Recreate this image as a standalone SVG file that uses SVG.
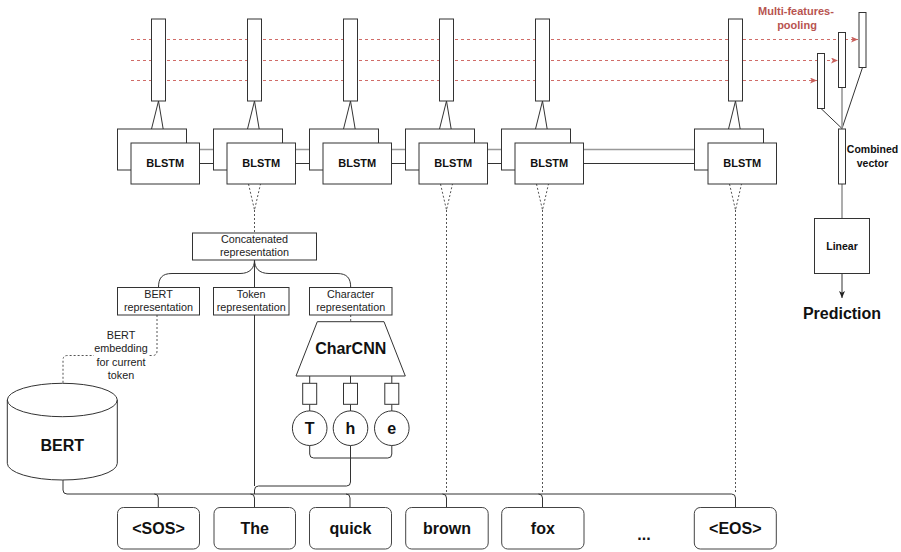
<svg xmlns="http://www.w3.org/2000/svg" width="901" height="552" viewBox="0 0 901 552">
  <defs>
    <marker id="arrow" markerUnits="userSpaceOnUse" markerWidth="8" markerHeight="7" refX="7" refY="3" orient="auto">
      <path d="M0,0 L7,3 L0,6 L1.8,3 Z" fill="#222"/>
    </marker>
    <marker id="arrowRed" markerUnits="userSpaceOnUse" markerWidth="8" markerHeight="7" refX="7" refY="3" orient="auto">
      <path d="M0,0 L7,3 L0,6 L1.8,3 Z" fill="#c9605c"/>
    </marker>
  </defs>
  <style>
    text { font-family: "Liberation Sans", Arial, Helvetica, sans-serif; fill: #111; text-anchor: middle; }
    .b11 { font-size: 11px; font-weight: bold; }
    .b10 { font-size: 10.5px; font-weight: bold; }
    .b16 { font-size: 16px; font-weight: bold; }
    .r11 { font-size: 10.8px; fill: #222; }
    .red { font-size: 11px; font-weight: bold; fill: #b85450; }
    .box { fill: #fff; stroke: #333; stroke-width: 1; }
    .tok { fill: #fff; stroke: #444; stroke-width: 1; }
    .ln { fill: none; stroke: #333; stroke-width: 1; }
    .gray { fill: none; stroke: #999; stroke-width: 1.6; }
    .dash { fill: none; stroke: #555; stroke-width: 1; stroke-dasharray: 2 2; }
    .pool { fill: none; stroke: #d06c68; stroke-width: 1; stroke-dasharray: 3 3; }
  </style>

  <!-- connectors -->
  <g id="connectors">
    <!-- pooling feeds -->
    <path class="pool" d="M131,39.5 H858" marker-end="url(#arrowRed)"/>
    <path class="pool" d="M131,60.5 H838" marker-end="url(#arrowRed)"/>
    <path class="pool" d="M131,80.5 H817" marker-end="url(#arrowRed)"/>

    <!-- bar to BLSTM pair -->
    <path class="ln" d="M158.5,101 L151.5,129 M158.5,101 L165.5,143"/>
    <path class="ln" d="M254.5,101 L247.5,129 M254.5,101 L261.5,143"/>
    <path class="ln" d="M350.5,101 L343.5,129 M350.5,101 L357.5,143"/>
    <path class="ln" d="M446.5,101 L439.5,129 M446.5,101 L453.5,143"/>
    <path class="ln" d="M542.5,101 L535.5,129 M542.5,101 L549.5,143"/>
    <path class="ln" d="M735.5,101 L728.5,129 M735.5,101 L742.5,143"/>

    <!-- recurrent links -->
    <path class="gray" d="M199.5,149.5 H213.5 M295.5,149.5 H309.5 M391.5,149.5 H405.5 M487.5,149.5 H501.5 M583.5,149.5 H694.5"/>
    <path class="ln" d="M199.5,163.5 H226.5" marker-end="url(#arrow)"/>
    <path class="ln" d="M295.5,163.5 H322.5" marker-end="url(#arrow)"/>
    <path class="ln" d="M391.5,163.5 H418.5" marker-end="url(#arrow)"/>
    <path class="ln" d="M487.5,163.5 H514.5" marker-end="url(#arrow)"/>
    <path class="ln" d="M583.5,163.5 H707.5" marker-end="url(#arrow)"/>

    <!-- inputs into BLSTM -->
    <path class="dash" d="M248.5,184 L254.5,210 L260.5,184 M254.5,210 V233"/>
    <path class="dash" d="M440.5,184 L446.5,210 L452.5,184 M446.5,210 V494"/>
    <path class="dash" d="M536.5,184 L542.5,210 L548.5,184 M542.5,210 V494"/>
    <path class="dash" d="M729.5,184 L735.5,210 L741.5,184 M735.5,210 V494"/>

    <!-- representation tree -->
    <path class="ln" d="M254.5,260 C254.5,268 250,273.5 240,273.5 L172,273.5 C162,273.5 158.5,278 158.5,287.5"/>
    <path class="ln" d="M254.5,260 C254.5,268 259,273.5 269,273.5 L337,273.5 C347,273.5 350.7,278 350.7,287.5"/>
    <path class="ln" d="M254.5,260 V486"/>
    <path class="dash" d="M350.7,315 V321.7"/>

    <!-- BERT embedding link -->
    <path class="dash" d="M157,315 V351 Q157,355.5 152.5,355.5 H67.5 Q63,355.5 63,360 V383"/>

    <!-- CharCNN internals -->
    <path class="ln" d="M309.7,376 V383.3 M350.5,376 V383.3 M391.8,376 V383.3"/>
    <path class="ln" d="M309.7,404.3 V411 M350.5,404.3 V411 M391.8,404.3 V411"/>
    <path class="ln" d="M309.7,445.5 V454 Q309.7,458 313.7,458 H387.8 Q391.8,458 391.8,454 V445.5"/>
    <path class="ln" d="M350.5,445.5 V482 Q350.5,486 346.5,486 H258.5 Q254.5,486 254.5,490 V494"/>

    <!-- BERT to tokens -->
    <path class="ln" d="M63,480 V490 Q63,494 67,494 H731.5 Q735.5,494 735.5,498 V507"/>
    <path class="ln" d="M154.3,494 Q158.3,494 158.3,498 V507"/>
    <path class="ln" d="M250.5,494 Q254.5,494 254.5,498 V507"/>
    <path class="ln" d="M346,494 Q350,494 350,498 V507"/>
    <path class="ln" d="M442.5,494 Q446.5,494 446.5,498 V507"/>
    <path class="ln" d="M538.5,494 Q542.5,494 542.5,498 V507"/>

    <!-- pooling head -->
    <path class="ln" d="M821,108.5 L842,128.5 M862.5,67.5 L842,128.5"/>
    <path class="gray" d="M842,87.5 V128.5"/>
    <path class="gray" d="M842,184 V218.5"/>
    <path class="ln" d="M842,273.5 V298" marker-end="url(#arrow)"/>
  </g>

  <!-- feature bars -->
  <g id="bars">
    <rect class="box" x="151.5" y="19" width="14" height="82"/>
    <rect class="box" x="247.5" y="19" width="14" height="82"/>
    <rect class="box" x="343.5" y="19" width="14" height="82"/>
    <rect class="box" x="439.5" y="19" width="14" height="82"/>
    <rect class="box" x="535.5" y="19" width="14" height="82"/>
    <rect class="box" x="728.5" y="19" width="14" height="82"/>
  </g>

  <!-- BLSTM cells -->
  <g id="blstm-1">
    <rect class="box" x="117.5" y="129" width="69" height="41"/>
    <rect class="box" x="131" y="143" width="68.5" height="41"/>
    <text class="b11" x="165.2" y="167">BLSTM</text>
  </g>
  <g id="blstm-2">
    <rect class="box" x="213.5" y="129" width="69" height="41"/>
    <rect class="box" x="227" y="143" width="68.5" height="41"/>
    <text class="b11" x="261.2" y="167">BLSTM</text>
  </g>
  <g id="blstm-3">
    <rect class="box" x="309.5" y="129" width="69" height="41"/>
    <rect class="box" x="323" y="143" width="68.5" height="41"/>
    <text class="b11" x="357.2" y="167">BLSTM</text>
  </g>
  <g id="blstm-4">
    <rect class="box" x="405.5" y="129" width="69" height="41"/>
    <rect class="box" x="419" y="143" width="68.5" height="41"/>
    <text class="b11" x="453.2" y="167">BLSTM</text>
  </g>
  <g id="blstm-5">
    <rect class="box" x="501.5" y="129" width="69" height="41"/>
    <rect class="box" x="515" y="143" width="68.5" height="41"/>
    <text class="b11" x="549.2" y="167">BLSTM</text>
  </g>
  <g id="blstm-6">
    <rect class="box" x="694.5" y="129" width="69" height="41"/>
    <rect class="box" x="708" y="143" width="68.5" height="41"/>
    <text class="b11" x="742.2" y="167">BLSTM</text>
  </g>

  <!-- pooling head -->
  <g id="pooling">
    <text class="red" x="796" y="15">Multi-features-</text>
    <text class="red" x="797" y="29">pooling</text>
    <rect class="box" x="817.5" y="53.5" width="7" height="55"/>
    <rect class="box" x="838.5" y="32.5" width="7" height="55"/>
    <rect class="box" x="859" y="12.5" width="7" height="55"/>
  </g>
  <g id="combined">
    <rect class="box" x="838.5" y="129" width="7" height="55"/>
    <text class="b10" x="872.5" y="153">Combined</text>
    <text class="b10" x="872.5" y="167">vector</text>
  </g>
  <g id="linear">
    <rect class="box" x="814.5" y="218.5" width="55" height="55"/>
    <text class="b10" x="842" y="249.5">Linear</text>
  </g>
  <g id="prediction">
    <text class="b16" x="842" y="319">Prediction</text>
  </g>

  <!-- representations -->
  <g id="concat">
    <rect class="box" x="192.5" y="233" width="124" height="27"/>
    <text class="r11" x="254.5" y="242.5">Concatenated</text>
    <text class="r11" x="254.5" y="256">representation</text>
  </g>
  <g id="bert-repr">
    <rect class="box" x="117.5" y="287.5" width="82" height="27.5"/>
    <text class="r11" x="158.5" y="297.5">BERT</text>
    <text class="r11" x="158.5" y="311">representation</text>
  </g>
  <g id="token-repr">
    <rect class="box" x="213.5" y="287.5" width="75.5" height="27.5"/>
    <text class="r11" x="251.2" y="297.5">Token</text>
    <text class="r11" x="251.2" y="311">representation</text>
  </g>
  <g id="char-repr">
    <rect class="box" x="309.5" y="287.5" width="82.5" height="27.5"/>
    <text class="r11" x="350.7" y="297.5">Character</text>
    <text class="r11" x="350.7" y="311">representation</text>
  </g>

  <!-- BERT embedding label -->
  <g id="bert-label">
    <rect x="94" y="328" width="54" height="54" fill="#fff"/>
    <text class="r11" x="121" y="338.5">BERT</text>
    <text class="r11" x="121" y="352">embedding</text>
    <text class="r11" x="121" y="365.5">for current</text>
    <text class="r11" x="121" y="379">token</text>
  </g>

  <!-- BERT model -->
  <g id="bert">
    <path class="box" d="M7.3,400 A55,16.7 0 0 1 117.3,400 V463.3 A55,16.7 0 0 1 7.3,463.3 Z"/>
    <path class="ln" d="M7.3,400 A55,16.7 0 0 0 117.3,400"/>
    <text class="b16" x="62.3" y="451">BERT</text>
  </g>

  <!-- character CNN -->
  <g id="charcnn">
    <polygon class="box" points="317.3,321.7 384,321.7 405.3,376 296,376"/>
    <text class="b16" x="350.7" y="354">CharCNN</text>
  </g>
  <g id="char-emb">
    <rect class="box" x="302.7" y="383.3" width="14" height="21"/>
    <rect class="box" x="343.5" y="383.3" width="14" height="21"/>
    <rect class="box" x="384.8" y="383.3" width="14" height="21"/>
  </g>
  <g id="char-T">
    <circle class="box" cx="309.7" cy="428.2" r="17.3"/>
    <text class="b16" x="309.7" y="433.8">T</text>
  </g>
  <g id="char-h">
    <circle class="box" cx="350.5" cy="428.2" r="17.3"/>
    <text class="b16" x="350.5" y="433.8">h</text>
  </g>
  <g id="char-e">
    <circle class="box" cx="391.8" cy="428.2" r="17.3"/>
    <text class="b16" x="391.8" y="433.8">e</text>
  </g>

  <!-- tokens -->
  <g id="tok-sos">
    <rect class="tok" x="117.5" y="507.5" width="82" height="41.5" rx="6"/>
    <text class="b16" x="158.5" y="533.5">&lt;SOS&gt;</text>
  </g>
  <g id="tok-the">
    <rect class="tok" x="214" y="507.5" width="81.5" height="41.5" rx="6"/>
    <text class="b16" x="254.7" y="533.5">The</text>
  </g>
  <g id="tok-quick">
    <rect class="tok" x="309.5" y="507.5" width="82" height="41.5" rx="6"/>
    <text class="b16" x="350.5" y="533.5">quick</text>
  </g>
  <g id="tok-brown">
    <rect class="tok" x="405.7" y="507.5" width="82.5" height="41.5" rx="6"/>
    <text class="b16" x="447" y="533.5">brown</text>
  </g>
  <g id="tok-fox">
    <rect class="tok" x="501.7" y="507.5" width="82.3" height="41.5" rx="6"/>
    <text class="b16" x="542.8" y="533.5">fox</text>
  </g>
  <g id="tok-ellipsis">
    <text class="b16" x="644" y="540">...</text>
  </g>
  <g id="tok-eos">
    <rect class="tok" x="694.3" y="507.5" width="82" height="41.5" rx="6"/>
    <text class="b16" x="735.3" y="533.5">&lt;EOS&gt;</text>
  </g>
</svg>
